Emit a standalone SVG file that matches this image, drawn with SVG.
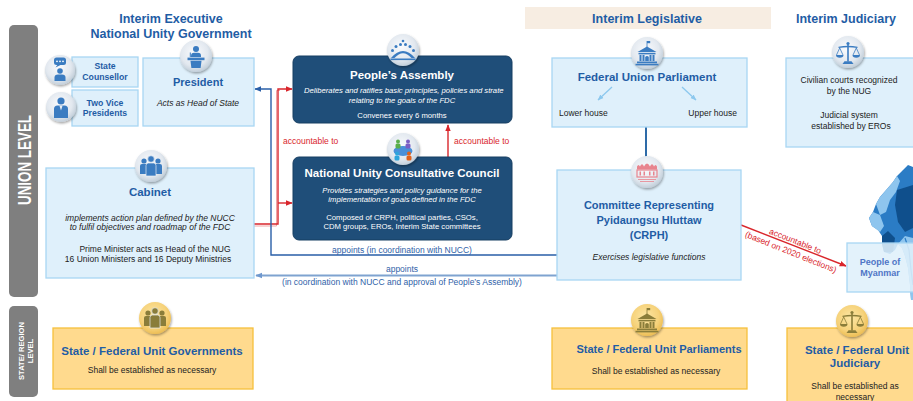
<svg xmlns="http://www.w3.org/2000/svg" xmlns:xlink="http://www.w3.org/1999/xlink" width="913" height="401" viewBox="0 0 913 401">
<defs>
<style>
text{font-family:"Liberation Sans",Arial,sans-serif;}
.lb{fill:#DFF0FB;stroke:#A8D6F3;stroke-width:1.3;}
.yb{fill:#FFDA8E;stroke:#F6C03C;stroke-width:1.3;}
.db{fill:#1F4E79;stroke:#173E62;stroke-width:1;}
.bar{fill:#7F7F7F;}
.hd{font-size:12.5px;font-weight:bold;fill:#1F5DA5;text-anchor:middle;}
.t{font-weight:bold;fill:#1F5DA5;text-anchor:middle;}
.wt{font-weight:bold;fill:#fff;text-anchor:middle;font-size:11.5px;}
.b{fill:#222;text-anchor:middle;font-size:8.5px;}
.i{font-style:italic;}
.w{fill:#fff;text-anchor:middle;font-size:7.7px;}
.red{fill:#D9262C;font-size:8.5px;}
.blu{fill:#2F62A8;font-size:8.5px;text-anchor:middle;}
.ic{fill:url(#ig);filter:url(#sh);}
.yc{fill:url(#yg);filter:url(#sh);}
.gl{color:#3B7CC1;fill:currentColor;}
.ol{color:#8A7D3A;fill:currentColor;}
.cr{fill:none;stroke:#D9262C;stroke-width:1.4;}
.cb{fill:none;stroke:#2A5FA8;stroke-width:1.4;}
</style>
<radialGradient id="ig" cx="45%" cy="40%" r="60%"><stop offset="0" stop-color="#FAFBFD"/><stop offset="0.7" stop-color="#E2E8EF"/><stop offset="1" stop-color="#C3CFDA"/></radialGradient>
<radialGradient id="yg" cx="45%" cy="40%" r="60%"><stop offset="0" stop-color="#FCE6A4"/><stop offset="0.7" stop-color="#F6D27A"/><stop offset="1" stop-color="#EDBE55"/></radialGradient>
<filter id="sh" x="-40%" y="-40%" width="180%" height="180%"><feDropShadow dx="0.8" dy="1.5" stdDeviation="1.2" flood-color="#000" flood-opacity="0.35"/></filter>
<marker id="mr" viewBox="0 0 10 10" refX="9" refY="5" markerWidth="7" markerHeight="7" markerUnits="userSpaceOnUse" orient="auto"><path d="M0,1 L10,5 L0,9 Z" fill="#D9262C"/></marker>
<marker id="mb" viewBox="0 0 10 10" refX="9" refY="5" markerWidth="7" markerHeight="7" markerUnits="userSpaceOnUse" orient="auto"><path d="M0,1 L10,5 L0,9 Z" fill="#2A5FA8"/></marker>
<marker id="ml" viewBox="0 0 10 10" refX="9" refY="5" markerWidth="7" markerHeight="7" markerUnits="userSpaceOnUse" orient="auto"><path d="M0,1 L10,5 L0,9 Z" fill="#6F98CE"/></marker>
<marker id="mp" viewBox="0 0 10 10" refX="9" refY="5" markerWidth="6" markerHeight="6" markerUnits="userSpaceOnUse" orient="auto"><path d="M0,1 L10,5 L0,9 Z" fill="#8CC8EE"/></marker>
<g id="g-pres">
 <circle cx="0" cy="-8" r="3"/>
 <path d="M-5,-1 Q-5,-4.3 -2,-4.3 L2,-4.3 Q5,-4.3 5,-1 L5,0 L-5,0Z"/>
 <rect x="-6.2" y="-4.5" width="1" height="4.5"/>
 <path d="M-8.5,0.6 H8.5 V3.2 H-8.5Z"/>
 <path d="M-5.5,3.8 H5.5 L4.6,11 H-4.6Z"/>
</g>
<g id="g-couns">
 <rect x="-6" y="-12.5" width="12" height="7.5" rx="2.5"/>
 <path d="M-2.5,-5.3 L-4.5,-2.5 L1,-5.3Z"/>
 <circle cx="-3" cy="-8.7" r="0.9" fill="#fff"/><circle cx="0" cy="-8.7" r="0.9" fill="#fff"/><circle cx="3" cy="-8.7" r="0.9" fill="#fff"/>
 <circle cx="0" cy="1" r="2.8"/>
 <path d="M-5.5,11 V7.5 Q-5.5,4.5 -2,4.5 H2 Q5.5,4.5 5.5,7.5 V11Z"/>
</g>
<g id="g-vp">
 <circle cx="0" cy="-6" r="3.6"/>
 <path d="M-7,11 V2 Q-7,-1.5 -3.5,-1.5 H3.5 Q7,-1.5 7,2 V11Z"/>
 <path d="M-1.6,-1.5 L0,3.5 L1.6,-1.5Z" fill="#E8EEF4"/>
</g>
<g id="g-cab">
 <circle cx="-7" cy="-5" r="2.6"/>
 <circle cx="7" cy="-5" r="2.6"/>
 <path d="M-11,8 V0 Q-11,-2 -9,-2 H-5 Q-3,-2 -3,0 V8Z"/>
 <path d="M3,8 V0 Q3,-2 5,-2 H9 Q11,-2 11,0 V8Z"/>
 <circle cx="0" cy="-7" r="3.3" stroke="#E6EDF3" stroke-width="0.7"/>
 <path d="M-5,10 V-0.5 Q-5,-3 -2.5,-3 H2.5 Q5,-3 5,-0.5 V10Z" stroke="#E6EDF3" stroke-width="0.7"/>
</g>
<g id="g-parl">
 <rect x="-0.4" y="-13" width="0.8" height="6"/>
 <rect x="0" y="-13" width="3.2" height="2.2"/>
 <path d="M-9.5,-2 L0,-7.5 L9.5,-2Z"/>
 <rect x="-8.5" y="-1.2" width="17" height="1.6"/>
 <rect x="-7.5" y="1" width="2" height="6"/><rect x="-4.5" y="1" width="2" height="6"/><rect x="2.5" y="1" width="2" height="6"/><rect x="5.5" y="1" width="2" height="6"/>
 <path d="M-1.8,7 V3 Q0,1 1.8,3 V7Z"/>
 <rect x="-10" y="7.5" width="20" height="1.8"/>
 <rect x="-11.5" y="9.8" width="23" height="1.6"/>
</g>
<g id="g-scale">
 <rect x="-0.8" y="-8.5" width="1.6" height="17"/>
 <circle cx="0" cy="-9.5" r="1.6"/>
 <path d="M-9.5,-6.3 Q0,-8 9.5,-6.3 V-5 Q0,-6.6 -9.5,-5Z"/>
 <path d="M-8.3,-5 L-11.5,2 M-8.3,-5 L-5,2 M8.3,-5 L11.5,2 M8.3,-5 L5,2" fill="none" stroke="currentColor" stroke-width="0.8"/>
 <path d="M-12,2 H-4.5 A3.75,2.8 0 0 1 -12,2Z"/>
 <path d="M4.5,2 H12 A3.75,2.8 0 0 1 4.5,2Z"/>
 <path d="M-5.5,11 H5.5 L3.5,8.3 H-3.5Z"/>
</g>
<g id="g-pa">
 <path d="M-12,7 Q0,-7 12,7 L8.5,7 Q0,-2.5 -8.5,7Z"/>
 <rect x="-12.5" y="7.5" width="25" height="1.6"/>
 <circle cx="-10.5" cy="-0.5" r="1.5"/><circle cx="-7" cy="-4.5" r="1.5"/><circle cx="-2.5" cy="-6.5" r="1.5"/><circle cx="2.5" cy="-6.5" r="1.5"/><circle cx="7" cy="-4.5" r="1.5"/><circle cx="10.5" cy="-0.5" r="1.5"/>
 <circle cx="0" cy="-10" r="1.3"/>
</g>
<clipPath id="cpa"><rect x="293" y="56" width="219" height="67" rx="6"/></clipPath>
</defs>

<rect x="0" y="0" width="913" height="401" fill="#FFFFFF"/>

<!-- level bars -->
<g id="union-level">
 <rect class="bar" x="9" y="25" width="29" height="272" rx="5"/>
 <text transform="translate(30.5,160) rotate(-90)" text-anchor="middle" font-size="18" font-weight="bold" fill="#fff" textLength="90" lengthAdjust="spacingAndGlyphs">UNION LEVEL</text>
</g>
<g id="state-level">
 <rect class="bar" x="9" y="306" width="29" height="91" rx="5"/>
 <text transform="translate(23.5,351) rotate(-90)" text-anchor="middle" font-size="7.6" font-weight="bold" fill="#fff">STATE/ REGION</text>
 <text transform="translate(32.5,351) rotate(-90)" text-anchor="middle" font-size="7.6" font-weight="bold" fill="#fff">LEVEL</text>
</g>

<!-- headers -->
<g id="hdr-exec">
 <text class="hd" x="171" y="23">Interim  Executive</text>
 <text class="hd" x="171" y="37.5">National Unity Government</text>
</g>
<g id="hdr-leg">
 <rect x="525" y="7" width="246" height="22" fill="#F7EDE2"/>
 <text class="hd" x="647" y="23">Interim Legislative</text>
</g>
<g id="hdr-jud">
 <text class="hd" x="846" y="23">Interim Judiciary</text>
</g>

<!-- Myanmar map -->
<g id="map">
 <path d="M903,170 L908,165 L913,167 L913,300 L911,300 L910,285 L908,268 L905,256 L902,248 L898,244 L895,250 L890,254 L884,252 L882,244 L882,236 L878,230 L872,226 L869,218 L873,212 L876,204 L880,197 L887,189 L893,182 L897,176 Z" fill="#2B7CC5"/>
 <path d="M876,204 L880,197 L887,189 L893,182 L897,176 L900,181 L896,192 L890,200 L886,212 L880,215 Z" fill="#8EC5EE"/>
 <path d="M897,190 L913,185 L913,228 L905,232 L898,222 L895,205 Z" fill="#0F4F8C"/>
 <path d="M869,218 L873,212 L880,215 L884,226 L880,232 L872,226 Z" fill="#8EC5EE"/>
 <path d="M882,236 L888,231 L895,238 L893,252 L884,252 L882,244 Z" fill="#0F4F8C"/>
 <path d="M898,244 L905,236 L913,238 L913,300 L911,300 L910,285 L908,268 L905,256 L902,248 Z" fill="#8EC5EE"/>
 <path d="M905,238 L909,250 L911,270 L913,285" fill="none" stroke="#2B7CC5" stroke-width="1.2"/>
</g>

<!-- connectors -->
<g id="connectors">
 <path d="M254,226 H276.5 V90.5 H280" fill="none" stroke="#F0A6A6" stroke-width="1"/>
 <path class="cr" d="M254,224 H278 V89 H292" marker-end="url(#mr)"/>
 <path class="cr" d="M278,203 H292" marker-end="url(#mr)"/>
 <path class="cr" d="M448,157 V125" marker-end="url(#mr)"/>
 <text class="red" x="283" y="144">accountable to</text>
 <text class="red" x="454" y="144">accountable to</text>
 <path class="cb" d="M557,255 H271 V89 H255" marker-end="url(#mb)"/>
 <text class="blu" x="402" y="253">appoints (in coordination with NUCC)</text>
 <path d="M557,275.5 H256" fill="none" stroke="#7FA3D0" stroke-width="2" marker-end="url(#ml)"/>
 <text class="blu" x="402" y="272">appoints</text>
 <text class="blu" x="402" y="284.5" fill="#3F73B8">(in coordination with NUCC and approval of People’s Assembly)</text>
 <path d="M646,127 V170" fill="none" stroke="#2E6BA8" stroke-width="2"/>
 <path class="cr" d="M741,225 L846,266" stroke-width="1.2" marker-end="url(#mr)"/>
 <text class="red" transform="translate(795.4,240.9) rotate(21.8)" text-anchor="middle" y="3">accountable to</text>
 <text class="red" transform="translate(790.9,252) rotate(21.8)" text-anchor="middle" y="3">(based on 2020 elections)</text>
</g>

<!-- nodes -->
<g id="state-counsellor">
 <rect class="lb" x="72" y="57" width="66" height="30"/>
 <text class="t" x="105" y="69" font-size="8.7">State</text>
 <text class="t" x="105" y="80" font-size="8.7">Counsellor</text>
 <circle class="ic" cx="60" cy="70" r="15"/>
 <use href="#g-couns" class="gl" transform="translate(60,70)"/>
</g>
<g id="vice-presidents">
 <rect class="lb" x="72" y="90" width="66" height="36"/>
 <text class="t" x="105" y="106" font-size="8.7">Two Vice</text>
 <text class="t" x="105" y="116" font-size="8.7">Presidents</text>
 <circle class="ic" cx="61" cy="107" r="15"/>
 <use href="#g-vp" class="gl" transform="translate(61,107)"/>
</g>
<g id="president">
 <rect class="lb" x="143" y="58" width="111" height="68"/>
 <text class="t" x="198" y="86" font-size="11">President</text>
 <text class="b i" x="198" y="106">Acts as Head of State</text>
 <circle class="ic" cx="196" cy="56" r="16"/>
 <use href="#g-pres" class="gl" transform="translate(196,57)"/>
</g>
<g id="cabinet">
 <rect class="lb" x="46" y="168" width="208" height="110"/>
 <text class="t" x="150" y="196" font-size="11.5">Cabinet</text>
 <text class="b i" x="150" y="220.5">implements action plan defined by the NUCC</text>
 <text class="b i" x="150" y="230">to fulfil objectives and roadmap of the FDC</text>
 <text class="b" x="155" y="251.5">Prime Minister acts as Head of the NUG</text>
 <text class="b" x="148" y="261.5">16 Union Ministers and 16 Deputy Ministries</text>
 <circle class="ic" cx="151" cy="166" r="16"/>
 <use href="#g-cab" class="gl" transform="translate(151,166)"/>
</g>
<g id="peoples-assembly">
 <rect class="db" x="293" y="56" width="219" height="67" rx="6"/>
 <text class="wt" x="402" y="78.5">People’s Assembly</text>
 <g clip-path="url(#cpa)">
  <text class="w i" x="304" y="93.4" text-anchor="start" style="text-anchor:start">Deliberates and ratifies basic principles, policies and strate</text>
 </g>
 <text class="w i" x="402" y="102.7">relating to the goals of the FDC</text>
 <text class="w" x="402" y="118" font-size="8">Convenes every 6 months</text>
 <circle class="ic" cx="403" cy="50" r="16"/>
 <use href="#g-pa" class="gl" transform="translate(403,51)"/>
</g>
<g id="nucc">
 <rect class="db" x="293" y="157" width="219" height="83" rx="6"/>
 <text class="wt" x="402" y="176.5">National Unity Consultative Council</text>
 <text class="w i" x="402" y="193.4">Provides strategies and policy guidance for the</text>
 <text class="w i" x="402" y="201.5">implementation of goals defined in the FDC</text>
 <text class="w" x="402" y="220" font-size="8">Composed of CRPH, political parties, CSOs,</text>
 <text class="w" x="402" y="229" font-size="8">CDM groups, EROs, Interim State committees</text>
 <circle class="ic" cx="403" cy="149" r="16"/>
 <g transform="translate(403,150)">
  <ellipse cx="0" cy="1" rx="9.5" ry="5" fill="#4A90D9"/>
  <circle cx="-5" cy="-8.5" r="2" fill="#5BAF4A"/><rect x="-7.5" y="-6.5" width="5" height="5" rx="1.5" fill="#5BAF4A"/>
  <circle cx="5" cy="-8.5" r="2" fill="#7B5EC4"/><rect x="2.5" y="-6.5" width="5" height="5" rx="1.5" fill="#7B5EC4"/>
  <circle cx="-6" cy="3.5" r="2" fill="#2CA5DC"/><rect x="-8.5" y="5.5" width="5" height="5" rx="1.5" fill="#2CA5DC"/>
  <circle cx="6" cy="3.5" r="2" fill="#E0621C"/><rect x="3.5" y="5.5" width="5" height="5" rx="1.5" fill="#E0621C"/>
 </g>
</g>
<g id="federal-union-parliament">
 <rect class="lb" x="552" y="58" width="195" height="69"/>
 <text class="t" x="647" y="81" font-size="11.5">Federal Union Parliament</text>
 <path d="M612,87 L598,100" stroke="#8CC8EE" stroke-width="1.3" marker-end="url(#mp)"/>
 <path d="M682,87 L696,100" stroke="#8CC8EE" stroke-width="1.3" marker-end="url(#mp)"/>
 <text class="b" x="559" y="115.5" font-size="9" style="text-anchor:start">Lower house</text>
 <text class="b" x="737" y="115.5" font-size="9" style="text-anchor:end">Upper house</text>
 <circle class="ic" cx="647" cy="53" r="16"/>
 <use href="#g-parl" class="gl" transform="translate(647,54)"/>
</g>
<g id="crph">
 <rect class="lb" x="557" y="170" width="184" height="110"/>
 <text class="t" x="649" y="209" font-size="11">Committee Representing</text>
 <text class="t" x="649" y="224" font-size="11">Pyidaungsu Hluttaw</text>
 <text class="t" x="649" y="239" font-size="11">(CRPH)</text>
 <text class="b i" x="649" y="260">Exercises legislative functions</text>
 <circle class="ic" cx="647" cy="172" r="16"/>
 <g transform="translate(647,172)" fill="#E8848E">
  <path d="M-10,-2.5 V-5.5 Q-8.5,-8.5 -7,-5.5 Q-5,-10 -3,-5.5 Q0,-11.5 3,-5.5 Q5,-10 7,-5.5 Q8.5,-8.5 10,-5.5 V-2.5Z"/>
  <rect x="-10" y="-2" width="20" height="7" fill="none" stroke="#E8848E" stroke-width="1.2"/>
  <rect x="-7.5" y="-0.5" width="1.5" height="4"/><rect x="-3.5" y="-0.5" width="1.5" height="4"/><rect x="2" y="-0.5" width="1.5" height="4"/><rect x="6" y="-0.5" width="1.5" height="4"/>
  <rect x="-9" y="7" width="18" height="0.8"/><rect x="-7" y="9" width="14" height="0.8"/>
 </g>
</g>
<g id="judiciary">
 <rect class="lb" x="786" y="58" width="140" height="89"/>
 <text class="b" x="849" y="82.5" font-size="8.8">Civilian courts recognized</text>
 <text class="b" x="849" y="93.5" font-size="8.8">by the NUG</text>
 <text class="b" x="849" y="117.5" font-size="8.8">Judicial system</text>
 <text class="b" x="851" y="128.5" font-size="8.8">established by EROs</text>
 <circle class="ic" cx="848" cy="52" r="16"/>
 <use href="#g-scale" class="gl" transform="translate(848,53)"/>
</g>
<g id="people-of-myanmar">
 <rect x="847" y="243" width="75" height="49" fill="#DFF0FB" fill-opacity="0.88" stroke="#A8D6F3" stroke-width="1.3"/>
 <text x="880" y="265" font-size="9" font-weight="bold" fill="#4F76C6" text-anchor="middle">People of</text>
 <text x="880" y="275.5" font-size="9" font-weight="bold" fill="#4F76C6" text-anchor="middle">Myanmar</text>
</g>
<g id="state-governments">
 <rect class="yb" x="53" y="328" width="200" height="61"/>
 <text class="t" x="152" y="355" font-size="11.5">State / Federal Unit Governments</text>
 <text class="b" x="152" y="372.5">Shall be established as necessary</text>
 <circle class="yc" cx="155" cy="318" r="16"/>
 <use href="#g-cab" class="ol" transform="translate(155,318)"/>
</g>
<g id="state-parliaments">
 <rect class="yb" x="552" y="328" width="195" height="61"/>
 <text class="t" x="659" y="352.5" font-size="11">State / Federal Unit Parliaments</text>
 <text class="b" x="656" y="373.5">Shall be established as necessary</text>
 <circle class="yc" cx="647" cy="320" r="16"/>
 <use href="#g-parl" class="ol" transform="translate(647,321)"/>
</g>
<g id="state-judiciary">
 <rect class="yb" x="787" y="328" width="140" height="80"/>
 <text class="t" x="857" y="353.5" font-size="11.5">State / Federal Unit</text>
 <text class="t" x="855" y="367" font-size="11.5">Judiciary</text>
 <text class="b" x="855" y="388.5">Shall be established as</text>
 <text class="b" x="855" y="399.5">necessary</text>
 <circle class="yc" cx="852" cy="321" r="16"/>
 <use href="#g-scale" class="ol" transform="translate(852,322)"/>
</g>
</svg>
